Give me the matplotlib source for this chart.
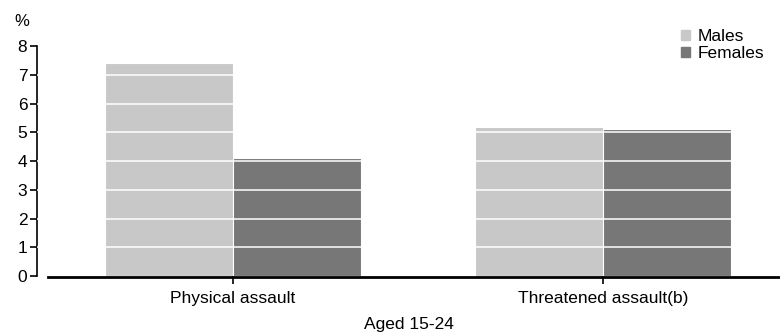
import matplotlib.pyplot as plt
import numpy as np
from matplotlib.patches import Patch

categories = ["Physical assault", "Threatened assault(b)"]
males = [7.4, 5.2]
females = [4.1, 5.1]
yticks = [0, 1, 2, 3, 4, 5, 6, 7, 8]

plt.rcParams["font.family"] = ["Liberation Sans", "DejaVu Sans"]

fig = plt.figure(figsize=(7.8, 3.35), dpi=100)
ax = fig.add_axes([37 / 780, 59 / 335, 743 / 780, 230 / 335])

x = np.arange(len(categories))
w = 0.345
ax.bar(x - w / 2, males, w, color="#c8c8c8", edgecolor="white", linewidth=0.8, label="Males")
ax.bar(x + w / 2, females, w, color="#777777", edgecolor="white", linewidth=0.8, label="Females")

# white gridlines drawn over the bars
for t in yticks[1:-1]:
    ax.axhline(t, color="white", linewidth=1.1, zorder=3)

ax.set_xlim(-0.53, 1.478)
ax.set_ylim(0, 8)
ax.set_yticks(yticks)
ax.set_xticks(x)
ax.set_xticklabels(categories)
ax.tick_params(axis="y", labelsize=12.5, length=5, width=1.2, pad=2)
ax.tick_params(axis="x", labelsize=12.5, length=6, width=1.2, pad=5)

for s in ["top", "right", "bottom"]:
    ax.spines[s].set_visible(False)
ax.spines["left"].set_linewidth(1.2)
ax.spines["left"].set_bounds(0, 8)

# separate x axis line starting right of the y axis
ax.plot([0.0148, 1.0], [-0.03, -0.03], transform=ax.get_yaxis_transform(),
        color="black", linewidth=2, clip_on=False, zorder=4)

ax.set_xlabel("Aged 15-24", fontsize=12.5, labelpad=8)
fig.text(22 / 780, 1 - 21 / 335, "%", fontsize=12, ha="center", va="center")

handles = [Patch(color="#c8c8c8", label="Males"), Patch(color="#777777", label="Females")]
ax.legend(handles=handles, loc="upper left", bbox_to_anchor=(0.857, 1.103), frameon=False,
          fontsize=12.5, handlelength=0.55, handleheight=0.55, handletextpad=0.45,
          labelspacing=0.1, borderaxespad=0)

fig.savefig("out.png", dpi=100)
